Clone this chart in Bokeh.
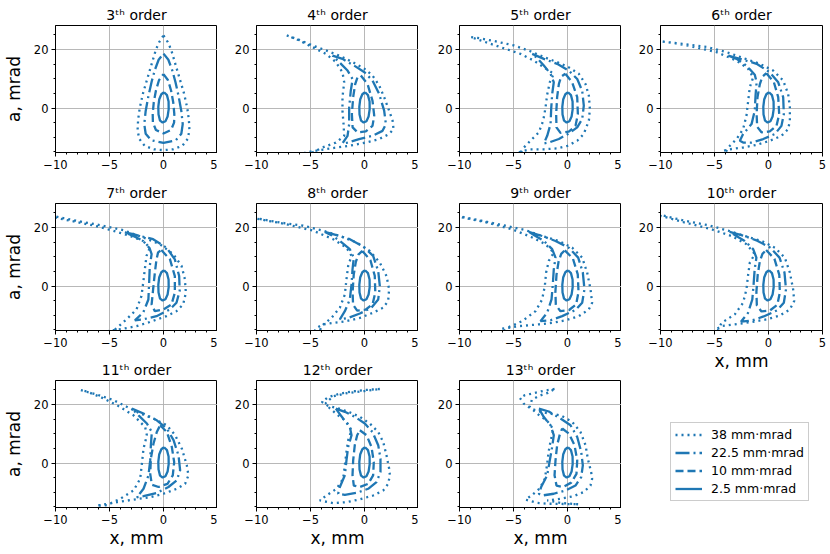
from bokeh.plotting import figure
from bokeh.models import Legend, LegendItem, FixedTicker, Range1d, ColumnDataSource
from bokeh.layouts import row, column
from bokeh.embed import file_html
from bokeh.resources import INLINE

# ---------------- data (x in mm, a in mrad) ----------------
ORDERS = [3, 4, 5, 6, 7, 8, 9, 10, 11, 12, 13]
EMITTANCES = ["38 mm·mrad", "22.5 mm·mrad", "10 mm·mrad", "2.5 mm·mrad"]
X_TICKS = [-10, -5, 0, 5]
X_TICK_LABELS = ["\u221210", "\u22125", "0", "5"]
X_MINOR = [-9, -8, -7, -6, -4, -3, -2, -1, 1, 2, 3, 4]
Y_TICKS = [0, 20]
Y_TICK_LABELS = ["0", "20"]
Y_MINOR = [-15, -10, -5, 5, 10, 15, 25]
X_LABEL = "x, mm"
Y_LABEL = "a, mrad"

# 2.5 mm·mrad ellipse (same in every panel)
E25 = [(0.05, 5.4), (0.32, 4.4), (0.47, 2.2), (0.48, -0.4), (0.38, -2.9), (0.18, -4.5), (-0.08, -4.95),
       (-0.32, -4.3), (-0.46, -2.2), (-0.48, 0.4), (-0.4, 2.9), (-0.2, 4.7), (0.05, 5.4)]

O3_38 = [(0.0, 24.8), (0.4, 22.5), (0.7, 20.0), (1.1, 15.0), (1.5, 10.0), (1.9, 5.0), (2.2, 0.0), (2.35, -4.0),
         (2.4, -7.5), (2.25, -10.5), (1.75, -12.9), (0.9, -14.1), (0.0, -14.4), (-0.9, -14.1), (-1.75, -12.9),
         (-2.25, -10.5), (-2.4, -7.5), (-2.35, -4.0), (-2.2, 0.0), (-1.9, 5.0), (-1.5, 10.0), (-1.1, 15.0),
         (-0.7, 20.0), (-0.4, 22.5), (0.0, 24.8)]
O3_225 = [(0.0, 18.6), (0.45, 16.5), (0.8, 13.0), (1.1, 9.0), (1.4, 4.0), (1.65, -1.0), (1.78, -5.5), (1.65, -8.8),
          (1.15, -11.0), (0.0, -11.9), (-1.15, -11.0), (-1.65, -8.8), (-1.78, -5.5), (-1.65, -1.0), (-1.4, 4.0),
          (-1.1, 9.0), (-0.8, 13.0), (-0.45, 16.5), (0.0, 18.6)]
O3_10 = [(0.0, 11.6), (0.42, 9.5), (0.7, 6.0), (0.9, 2.0), (1.0, -2.0), (0.98, -5.0), (0.7, -7.5), (0.0, -8.7),
         (-0.7, -7.5), (-0.98, -5.0), (-1.0, -2.0), (-0.9, 2.0), (-0.7, 6.0), (-0.42, 9.5), (0.0, 11.6)]

O4_38 = [(-7.2, 24.8), (-6.05, 23.3), (-4.81, 21.4), (-3.58, 19.7), (-2.35, 17.9), (-1.1, 15.7), (0.0, 13.4),
         (0.74, 11.1), (1.36, 7.7), (1.82, 3.7), (2.28, -0.9), (2.6, -4.3), (2.69, -7.2), (2.28, -8.9), (1.36, -10.6),
         (0.12, -11.8), (-1.42, -12.9), (-2.96, -13.7), (-4.2, -14.4), (-5.43, -15.2), (-6.2, -16.2), (-5.6, -16.6),
         (-4.97, -15.5), (-3.9, -13.5), (-2.65, -11.8), (-1.88, -9.5), (-1.94, -5.5), (-2.04, -0.9), (-2.04, 3.7),
         (-1.88, 8.8), (-2.04, 12.2), (-2.65, 15.7), (-3.58, 18.5), (-4.81, 20.8), (-6.05, 23.1), (-7.2, 24.8)]
O4_225 = [(-2.96, 17.9), (-2.04, 16.8), (-0.96, 14.5), (0.0, 12.2), (0.74, 9.4), (1.36, 4.8), (1.82, -0.9),
          (1.98, -5.5), (1.67, -7.8), (0.74, -9.5), (-0.5, -10.6), (-1.57, -11.8), (-2.04, -12.1), (-1.57, -9.5),
          (-1.42, -5.5), (-1.42, 0.2), (-1.27, 5.9), (-1.1, 9.9), (-1.57, 12.8), (-2.35, 15.7), (-2.96, 17.9)]
O4_10 = [(-0.34, 11.1), (0.28, 8.2), (0.74, 2.5), (0.9, -2.6), (0.74, -6.1), (0.12, -8.0), (-0.65, -8.3),
         (-1.1, -6.6), (-1.17, -2.1), (-1.05, 3.7), (-0.86, 8.2), (-0.65, 10.5), (-0.34, 11.1)]

O5_38 = [(-8.92, 24.2), (-8.36, 24.0), (-6.82, 22.9), (-4.97, 21.4), (-3.43, 19.4), (-2.19, 17.4), (-0.96, 15.7),
         (0.12, 13.9), (1.05, 11.7), (1.67, 8.2), (1.98, 4.2), (2.07, -0.3), (1.98, -4.3), (1.5, -8.9), (0.9, -11.2),
         (0.0, -12.9), (-0.96, -13.8), (-2.19, -14.1), (-3.43, -14.1), (-4.35, -14.9), (-5.0, -16.5), (-4.5, -16.3),
         (-4.04, -13.5), (-3.36, -10.9), (-2.65, -8.3), (-2.25, -4.3), (-2.04, 0.0), (-1.88, 4.6), (-1.64, 8.8),
         (-1.27, 11.7), (-2.19, 13.9), (-3.12, 16.2), (-4.35, 18.5), (-6.2, 20.8), (-8.05, 23.1), (-8.92, 24.2)]
O5_225 = [(-3.27, 18.5), (-2.19, 16.8), (-0.96, 15.1), (0.12, 12.8), (0.9, 9.9), (1.36, 5.9), (1.51, 0.8),
          (1.36, -3.8), (0.9, -6.6), (0.12, -8.7), (-0.8, -10.6), (-1.73, -11.8), (-2.19, -12.1), (-1.88, -9.5),
          (-1.57, -5.5), (-1.51, -0.3), (-1.42, 4.8), (-1.27, 8.8), (-1.57, 11.7), (-2.19, 14.5), (-2.81, 17.1),
          (-3.27, 18.5)]
O5_10 = [(-0.2, 11.7), (0.43, 8.8), (0.9, 3.7), (0.96, -2.1), (0.74, -6.1), (0.12, -8.1), (-0.65, -8.5),
         (-1.02, -6.6), (-1.05, -2.1), (-0.96, 3.7), (-0.8, 8.2), (-0.59, 10.7), (-0.2, 11.7)]

O6_38 = [(-9.8, 22.7), (-7.9, 21.9), (-5.74, 20.9), (-3.89, 19.1), (-2.35, 17.1), (-0.8, 15.1), (0.43, 12.8),
         (1.36, 9.4), (1.82, 4.8), (1.98, 0.2), (1.98, -4.3), (1.82, -7.2), (1.2, -9.5), (0.12, -11.2), (-1.1, -12.6),
         (-2.35, -13.5), (-3.58, -14.1), (-4.2, -14.6), (-4.6, -16.0), (-4.1, -16.0), (-3.73, -13.5), (-2.96, -10.6),
         (-2.35, -7.2), (-2.04, -2.6), (-1.88, 2.5), (-1.73, 7.1), (-1.42, 10.5), (-1.88, 13.4), (-2.96, 16.2),
         (-4.81, 19.1), (-7.28, 21.2), (-9.14, 22.4), (-9.8, 22.7)]
O6_225 = [(-3.73, 17.9), (-2.35, 16.5), (-1.1, 15.1), (0.12, 12.2), (0.9, 8.8), (1.36, 3.7), (1.42, -2.1),
          (1.2, -6.1), (0.59, -8.9), (-0.49, -10.6), (-1.57, -11.8), (-2.35, -11.8), (-2.65, -11.2), (-2.35, -8.9),
          (-1.57, -5.5), (-1.27, -0.9), (-1.2, 4.2), (-1.1, 8.8), (-1.27, 11.4), (-2.04, 14.5), (-2.96, 16.8),
          (-3.73, 17.9)]
O6_10 = [(-0.2, 11.9), (0.5, 8.8), (0.9, 3.7), (0.99, -2.1), (0.74, -6.1), (0.12, -8.0), (-0.65, -8.3),
         (-1.05, -6.4), (-1.1, -2.1), (-1.02, 3.7), (-0.8, 8.2), (-0.56, 10.7), (-0.2, 11.9)]

O7_38 = [(-11.0, 24.5), (-10.06, 23.8), (-8.06, 22.3), (-5.59, 20.6), (-3.73, 19.1), (-1.88, 16.6), (-0.34, 14.3),
         (0.9, 10.9), (1.67, 6.9), (1.98, 2.3), (2.07, -2.3), (1.82, -6.3), (1.2, -8.6), (0.28, -10.3), (-1.27, -12.3),
         (-2.5, -13.7), (-3.73, -14.6), (-5.0, -15.2), (-5.8, -16.5), (-5.2, -16.4), (-4.4, -14.6), (-3.43, -11.4),
         (-2.5, -8.0), (-2.04, -3.4), (-1.88, 1.1), (-1.73, 5.7), (-1.57, 10.3), (-1.27, 13.1), (-1.88, 15.4),
         (-3.1, 17.1), (-4.66, 18.9), (-6.5, 20.7), (-8.5, 22.2), (-10.06, 23.4), (-11.0, 24.5)]
O7_225 = [(-3.58, 18.3), (-2.8, 17.7), (-0.96, 16.0), (0.28, 13.1), (1.05, 9.1), (1.45, 3.4), (1.5, -1.7),
          (1.2, -5.7), (0.6, -8.0), (-0.65, -10.3), (-1.88, -11.4), (-2.65, -11.7), (-1.88, -9.1), (-1.4, -4.6),
          (-1.33, 1.1), (-1.27, 6.9), (-1.1, 10.9), (-1.3, 13.0), (-1.88, 15.4), (-2.8, 17.1), (-3.58, 18.3)]
O7_10 = [(-0.2, 12.3), (0.6, 9.1), (1.05, 3.4), (1.05, -2.3), (0.74, -6.3), (0.0, -8.0), (-0.8, -8.6),
         (-1.1, -6.3), (-0.96, -1.1), (-0.8, 4.6), (-0.65, 9.1), (-0.5, 11.5), (-0.2, 12.3)]

O8_38 = [(-10.8, 23.5), (-9.94, 23.1), (-7.84, 21.7), (-5.68, 20.6), (-3.83, 18.9), (-2.28, 17.1), (-0.74, 14.9),
         (0.49, 12.0), (1.42, 8.0), (2.04, 3.4), (2.28, -1.1), (2.19, -5.1), (1.73, -7.4), (0.8, -9.1), (-0.43, -10.9),
         (-1.67, -12.0), (-2.9, -12.6), (-3.83, -13.1), (-4.44, -14.3), (-4.7, -16.0), (-4.2, -16.0), (-3.98, -13.7),
         (-3.06, -10.9), (-2.28, -7.4), (-1.82, -2.9), (-1.67, 2.3), (-1.51, 6.9), (-1.2, 10.3), (-1.67, 13.1),
         (-2.9, 16.0), (-4.75, 18.9), (-7.22, 21.1), (-9.38, 22.6), (-10.8, 23.5)]
O8_225 = [(-3.67, 18.5), (-2.59, 17.4), (-1.36, 16.0), (-0.12, 13.5), (0.8, 10.3), (1.27, 5.1), (1.42, 0.0),
          (1.27, -4.6), (0.65, -7.4), (-0.43, -9.4), (-1.51, -10.9), (-2.28, -11.4), (-1.82, -8.6), (-1.36, -4.6),
          (-1.2, 0.6), (-1.11, 5.7), (-0.99, 9.7), (-1.36, 12.6), (-2.28, 15.4), (-3.06, 17.4), (-3.67, 18.5)]
O8_10 = [(-0.2, 12.0), (0.55, 8.8), (0.95, 3.5), (1.0, -2.2), (0.75, -6.2), (0.1, -8.1), (-0.68, -8.4),
         (-1.06, -6.4), (-1.1, -2.0), (-1.0, 3.8), (-0.8, 8.3), (-0.55, 10.8), (-0.2, 12.0)]

O9_38 = [(-10.8, 24.3), (-10.0, 23.8), (-7.9, 22.3), (-5.74, 20.6), (-3.89, 19.1), (-2.35, 17.1), (-0.8, 15.4),
         (0.43, 13.1), (1.36, 9.7), (1.82, 4.6), (2.13, -1.1), (2.28, -5.7), (1.98, -8.0), (1.05, -10.3),
         (-0.19, -11.7), (-1.42, -12.6), (-2.65, -13.1), (-4.5, -13.7), (-6.05, -14.6), (-6.6, -16.0), (-6.0, -16.0),
         (-5.59, -14.3), (-4.2, -12.0), (-2.96, -8.6), (-2.35, -4.6), (-2.1, 0.0), (-1.98, 4.6), (-1.73, 8.6),
         (-1.27, 11.4), (-2.04, 14.3), (-3.27, 16.6), (-5.12, 19.4), (-7.6, 21.8), (-9.44, 23.2), (-10.8, 24.3)]
O9_225 = [(-3.58, 18.5), (-2.35, 17.1), (-1.11, 15.4), (0.12, 13.1), (0.99, 9.7), (1.42, 4.6), (1.57, -1.1),
          (1.36, -5.7), (0.74, -8.2), (-0.49, -10.3), (-1.57, -11.7), (-2.5, -12.0), (-1.88, -9.1), (-1.48, -4.6),
          (-1.36, 0.6), (-1.27, 5.7), (-1.11, 9.7), (-1.42, 12.6), (-2.19, 15.4), (-2.96, 17.1), (-3.58, 18.5)]
O9_10 = [(-0.25, 12.2), (0.5, 9.4), (0.95, 4.0), (1.02, -2.0), (0.8, -6.3), (0.15, -8.2), (-0.65, -8.6),
         (-1.08, -6.5), (-1.12, -2.0), (-1.02, 3.8), (-0.82, 8.5), (-0.58, 11.0), (-0.25, 12.2)]

O10_38 = [(-10.8, 24.6), (-9.9, 24.2), (-7.75, 22.3), (-5.59, 20.8), (-3.73, 18.9), (-2.19, 17.1), (-0.65, 15.4),
          (0.59, 13.1), (1.51, 9.7), (1.98, 4.6), (2.28, -1.1), (2.38, -5.1), (1.98, -8.0), (1.05, -10.1),
          (-0.19, -11.4), (-1.57, -12.3), (-3.12, -13.1), (-4.35, -13.7), (-4.97, -15.1), (-5.3, -16.3),
          (-4.8, -16.0), (-4.35, -12.6), (-3.12, -9.7), (-2.35, -5.7), (-2.04, -1.1), (-1.88, 4.0), (-1.73, 8.0),
          (-1.27, 10.9), (-2.04, 14.3), (-3.43, 17.1), (-5.28, 19.4), (-7.75, 21.7), (-9.6, 23.6), (-10.8, 24.6)]
O10_225 = [(-3.6, 18.5), (-2.3, 17.2), (-1.05, 15.5), (0.18, 13.1), (1.02, 9.7), (1.48, 4.6), (1.62, -1.1),
           (1.42, -5.7), (0.8, -8.3), (-0.45, -10.4), (-1.55, -11.8), (-2.55, -12.2), (-1.9, -9.2), (-1.5, -4.6),
           (-1.38, 0.6), (-1.28, 5.7), (-1.12, 9.7), (-1.42, 12.6), (-2.2, 15.4), (-2.98, 17.1), (-3.6, 18.5)]
O10_10 = [(-0.22, 12.3), (0.55, 9.3), (1.0, 3.8), (1.05, -2.2), (0.82, -6.4), (0.15, -8.3), (-0.65, -8.7),
          (-1.08, -6.6), (-1.12, -2.0), (-1.0, 3.8), (-0.8, 8.5), (-0.56, 11.0), (-0.22, 12.3)]

O11_38 = [(-7.65, 24.9), (-6.17, 23.4), (-4.63, 21.5), (-3.4, 19.2), (-2.16, 16.9), (-0.93, 15.2), (0.31, 12.9),
          (1.08, 9.5), (1.7, 4.9), (2.16, -0.8), (2.31, -4.2), (2.0, -7.1), (1.23, -8.8), (0.0, -10.5),
          (-1.23, -11.7), (-2.78, -12.5), (-4.32, -13.4), (-5.56, -14.2), (-6.2, -14.6), (-5.25, -14.4),
          (-4.0, -12.2), (-2.78, -9.4), (-2.16, -5.4), (-2.0, -0.2), (-1.85, 4.9), (-1.54, 9.5), (-1.7, 12.3),
          (-2.78, 16.3), (-4.32, 19.8), (-5.86, 22.6), (-7.25, 24.6), (-7.65, 24.9)]
O11_225 = [(-2.93, 18.6), (-1.85, 16.9), (-0.62, 14.6), (0.31, 11.8), (0.93, 7.8), (1.39, 2.6), (1.54, -2.5),
           (1.23, -5.9), (0.46, -8.2), (-0.62, -10.2), (-1.85, -11.3), (-2.47, -11.7), (-1.85, -8.8), (-1.39, -4.2),
           (-1.23, 0.9), (-1.17, 6.1), (-1.08, 10.6), (-1.54, 13.5), (-2.31, 16.3), (-2.93, 18.6)]
O11_10 = [(-0.31, 12.9), (0.31, 10.6), (0.77, 5.5), (0.99, 0.3), (0.86, -4.2), (0.37, -7.1), (-0.46, -8.2),
          (-1.08, -7.4), (-1.23, -3.7), (-1.17, 1.5), (-0.93, 6.6), (-0.62, 10.6), (-0.31, 12.9)]

O12_38 = [(1.42, 25.3), (0.2, 25.0), (-1.05, 24.5), (-2.28, 23.7), (-3.36, 22.5), (-3.95, 20.9), (-3.4, 19.6),
          (-2.44, 18.7), (-1.36, 17.3), (-0.43, 15.8), (0.49, 13.5), (1.27, 10.6), (1.73, 7.2), (2.04, 2.6),
          (2.28, -1.9), (2.35, -4.2), (2.19, -7.1), (1.73, -9.4), (0.8, -11.1), (-0.43, -12.4), (-1.67, -13.4),
          (-2.9, -13.7), (-4.14, -12.8), (-3.52, -11.1), (-2.59, -8.8), (-1.98, -5.4), (-1.82, -0.8), (-1.67, 3.8),
          (-1.51, 7.8), (-1.2, 11.2), (-1.67, 14.1), (-2.44, 16.3), (-3.2, 18.6), (-3.6, 20.5), (-2.9, 22.8),
          (-1.6, 23.9), (0.0, 24.6), (1.42, 25.3)]
O12_225 = [(-2.65, 18.6), (-1.82, 17.5), (-0.9, 15.8), (0.03, 13.5), (0.74, 10.6), (1.27, 6.1), (1.48, 1.5),
           (1.48, -3.1), (1.11, -6.5), (0.34, -8.8), (-0.74, -10.2), (-1.82, -10.9), (-2.44, -10.5), (-2.28, -8.2),
           (-1.82, -4.2), (-1.67, 0.9), (-1.51, 5.5), (-1.2, 9.5), (-1.36, 12.3), (-1.98, 15.2), (-2.44, 17.5),
           (-2.65, 18.6)]
O12_10 = [(-0.43, 11.2), (0.19, 9.5), (0.65, 5.5), (0.86, 0.3), (0.8, -4.2), (0.34, -7.1), (-0.43, -8.2),
          (-0.99, -7.7), (-1.11, -4.2), (-1.05, 0.9), (-0.9, 6.1), (-0.68, 9.5), (-0.43, 11.2)]

O13_38 = [(-1.2, 25.3), (-2.19, 24.7), (-3.12, 23.9), (-4.0, 23.1), (-4.4, 22.2), (-4.05, 20.3), (-3.4, 18.6),
          (-2.4, 17.4), (-1.5, 16.8), (-0.65, 16.3), (0.43, 14.1), (1.2, 10.6), (1.67, 6.1), (1.88, 1.5),
          (2.19, -3.1), (2.28, -5.4), (2.13, -7.7), (1.51, -9.9), (0.59, -11.3), (-0.65, -12.2), (-1.88, -12.8),
          (-0.5, -13.7), (1.05, -14.1), (-0.3, -14.0), (-1.9, -13.9), (-2.81, -13.6), (-3.89, -12.5), (-3.3, -11.0),
          (-2.6, -8.8), (-2.1, -5.4), (-1.9, -0.8), (-1.75, 3.8), (-1.55, 7.8), (-1.3, 11.5), (-1.9, 14.5),
          (-2.8, 16.8), (-3.5, 19.2), (-3.3, 21.6), (-2.6, 23.0), (-1.8, 24.0), (-1.2, 25.3)]
O13_225 = [(-2.65, 18.6), (-1.73, 17.6), (-0.65, 15.2), (0.28, 12.9), (0.9, 8.9), (1.27, 3.8), (1.42, -0.8),
           (1.27, -4.8), (0.74, -7.7), (-0.19, -9.4), (-1.27, -10.5), (-2.35, -11.1), (-2.65, -10.5), (-2.44, -8.2),
           (-1.88, -4.2), (-1.64, 0.9), (-1.42, 5.5), (-1.27, 9.5), (-1.57, 12.9), (-2.19, 15.7), (-2.65, 18.6)]
O13_10 = [(-0.49, 11.8), (0.12, 10.1), (0.65, 6.1), (0.9, 0.9), (0.83, -3.7), (0.34, -6.7), (-0.4, -8.2),
          (-1.02, -7.7), (-1.2, -4.2), (-1.11, 0.9), (-0.96, 6.1), (-0.71, 9.8), (-0.49, 11.8)]

PANEL_CURVES = {
    3: [O3_38, O3_225, O3_10, E25],
    4: [O4_38, O4_225, O4_10, E25],
    5: [O5_38, O5_225, O5_10, E25],
    6: [O6_38, O6_225, O6_10, E25],
    7: [O7_38, O7_225, O7_10, E25],
    8: [O8_38, O8_225, O8_10, E25],
    9: [O9_38, O9_225, O9_10, E25],
    10: [O10_38, O10_225, O10_10, E25],
    11: [O11_38, O11_225, O11_10, E25],
    12: [O12_38, O12_225, O12_10, E25],
    13: [O13_38, O13_225, O13_10, E25],
}

# ---------------- styles / layout ----------------
BLUE = "#1f77b4"
FONT = "DejaVu Sans"
DASHES = ["2 4", "14 4 2 4", "8 4", "solid"]
LW = 2.3
FRAME_W, FRAME_H = 162, 127
LEFT_BORDERS = [52, 39, 41, 39]
RIGHT_LAST = 8
TOP_BORDERS = [25, 25, 25]
BOTTOM_BORDERS = [26, 25, 42]
XLABEL_BOTTOM = 42


def make_panel(order, r, c, xlabel, ylabel):
    p = figure(frame_width=FRAME_W, frame_height=FRAME_H,
               min_border_left=LEFT_BORDERS[c],
               min_border_right=RIGHT_LAST if c == 3 else 0,
               min_border_top=TOP_BORDERS[r],
               min_border_bottom=XLABEL_BOTTOM if xlabel else BOTTOM_BORDERS[r],
               x_range=Range1d(-10, 5), y_range=Range1d(-15.2, 28.2),
               title=f"{order}\u1d57\u02b0 order",
               toolbar_location=None, tools="", output_backend="svg")
    p.title.text_font = FONT
    p.title.text_font_size = "14px"
    p.title.text_font_style = "normal"
    p.title.text_color = "black"
    p.title.align = "center"
    p.title.standoff = 6
    p.background_fill_color = "white"
    p.border_fill_color = "white"
    p.outline_line_color = "black"
    p.outline_line_width = 1
    p.outline_line_alpha = 1
    for ax, ticks, minors, labels in ((p.xaxis, X_TICKS, X_MINOR, X_TICK_LABELS),
                                      (p.yaxis, Y_TICKS, Y_MINOR, Y_TICK_LABELS)):
        ax.ticker = FixedTicker(ticks=ticks, minor_ticks=minors)
        ax.major_label_overrides = {t: l for t, l in zip(ticks, labels)}
        ax.major_label_text_font = FONT
        ax.major_label_text_font_size = "11.5px"
        ax.major_label_text_color = "black"
        ax.major_tick_out = 4
        ax.major_tick_in = 0
        ax.minor_tick_out = 2
        ax.minor_tick_in = 0
        ax.axis_line_color = "black"
        ax.major_tick_line_color = "black"
        ax.minor_tick_line_color = "black"
        ax.major_label_standoff = 3
        ax.axis_label_text_font = FONT
        ax.axis_label_text_font_size = "17px"
        ax.axis_label_text_font_style = "normal"
        ax.axis_label_text_color = "black"
    if xlabel:
        p.xaxis.axis_label = X_LABEL
        p.xaxis.axis_label_standoff = 1
    if ylabel:
        p.yaxis.axis_label = Y_LABEL
        p.yaxis.axis_label_standoff = 7
    for g in (p.xgrid, p.ygrid):
        g.grid_line_color = "#b0b0b0"
        g.grid_line_width = 0.9
    for pts, dash in zip(PANEL_CURVES[order], DASHES):
        src = ColumnDataSource(dict(x=[q[0] for q in pts], y=[q[1] for q in pts]))
        p.line("x", "y", source=src, line_color=BLUE, line_width=LW, line_dash=dash)
    return p


panels = {}
for i, order in enumerate(ORDERS):
    r, c = divmod(i, 4)
    xl = (r == 2) or (r == 1 and c == 3)
    panels[order] = make_panel(order, r, c, xl, c == 0)

# legend in the empty slot (a figure with hidden axes, same frame as the panel row)
pl = figure(frame_width=FRAME_W, frame_height=FRAME_H, min_border_left=LEFT_BORDERS[3],
            min_border_right=RIGHT_LAST, min_border_top=8, min_border_bottom=10,
            x_range=Range1d(100, 101), y_range=Range1d(100, 101),
            toolbar_location=None, tools="", output_backend="svg")
pl.xaxis.visible = False
pl.yaxis.visible = False
pl.xgrid.visible = False
pl.ygrid.visible = False
pl.outline_line_color = None
items = []
for lab, pts, dash in zip(EMITTANCES, PANEL_CURVES[13], DASHES):
    src = ColumnDataSource(dict(x=[q[0] for q in pts], y=[q[1] for q in pts]))
    rr = pl.line("x", "y", source=src, line_color=BLUE, line_width=LW, line_dash=dash)
    items.append(LegendItem(label=lab, renderers=[rr]))
legend = Legend(items=items, location=(10, 7), margin=0, padding=4, spacing=3,
                glyph_width=27, glyph_height=15, label_height=15, label_standoff=9,
                label_text_font=FONT, label_text_font_size="12.5px", label_text_color="black",
                border_line_color="#cccccc", border_line_width=1, border_line_alpha=1,
                background_fill_color="white", background_fill_alpha=0.8)
pl.add_layout(legend)

layout = row(
    column(panels[3], panels[7], panels[11]),
    column(panels[4], panels[8], panels[12]),
    column(panels[5], panels[9], panels[13]),
    column(panels[6], panels[10], pl),
)

open("out.html", "w").write(file_html(layout, INLINE))
